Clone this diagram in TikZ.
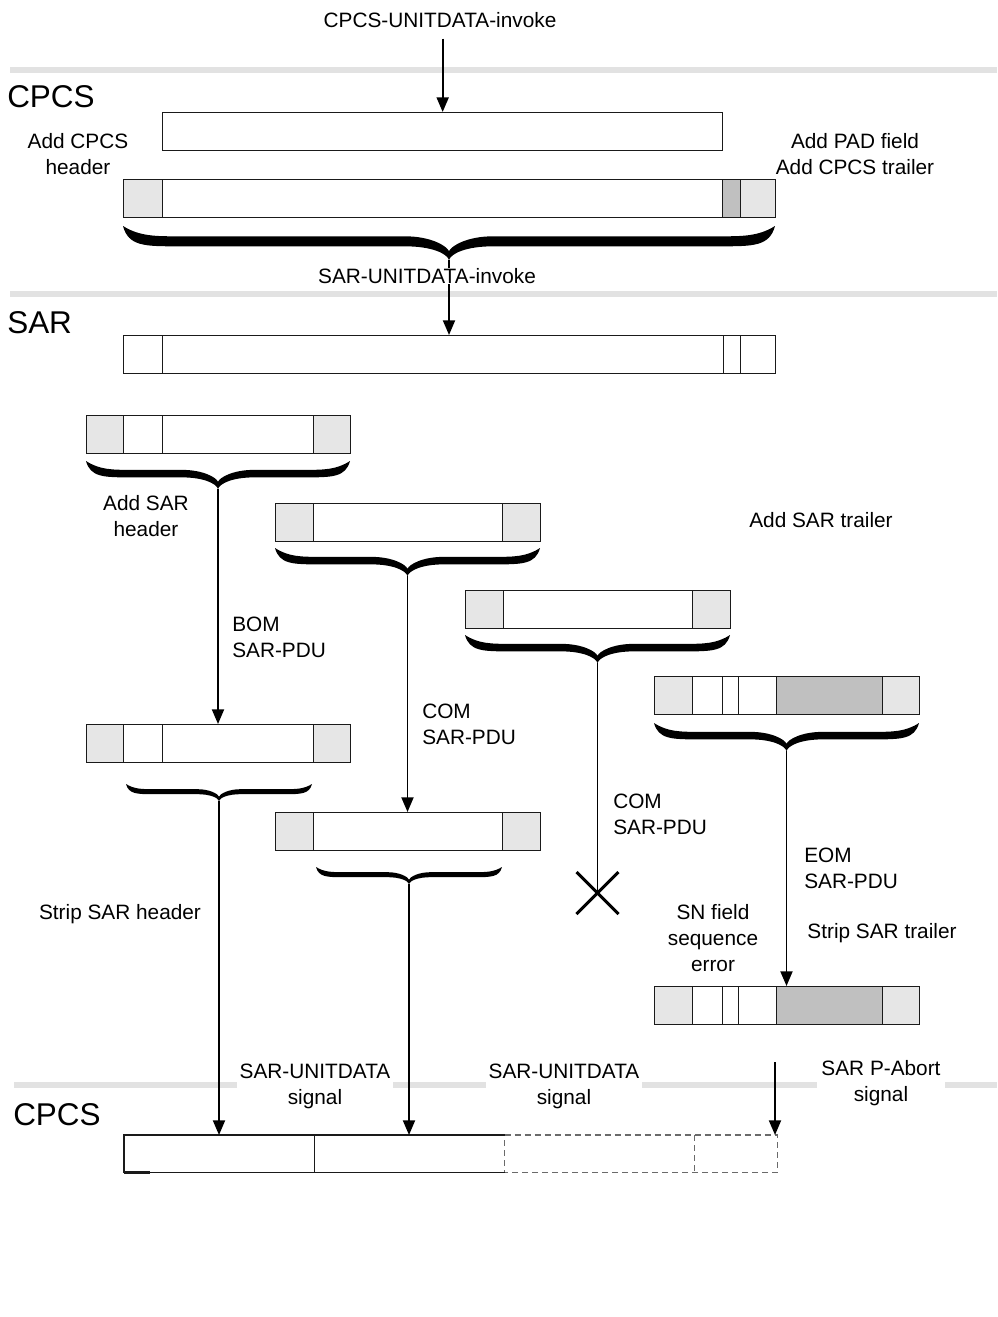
\documentclass[tikz,border=0pt]{standalone}
\usepackage{fontspec}
\setmainfont{Liberation Sans}
\usetikzlibrary{arrows.meta}
\definecolor{lg}{HTML}{E6E6E6}
\definecolor{mg}{HTML}{C0C0C0}
\definecolor{sepg}{HTML}{E2E2E2}
\definecolor{dashg}{HTML}{6A6A6A}
\definecolor{ink}{HTML}{1A1A1A}

\tikzset{
  lbl/.style={font=\fontsize{15.6}{19.5}\selectfont, align=center, inner sep=0pt},
  lbll/.style={lbl, align=left, anchor=west},
  big/.style={font=\fontsize{23.6}{28}\selectfont, inner sep=0pt, anchor=west},
  sepline/.style={draw=sepg, line width=4.5pt},
  arr/.style={-{Triangle[length=11pt,width=9pt]}, line width=1.4pt, draw=black},
  conn/.style={line width=1.4pt, draw=black},
  boxline/.style={line width=1pt, draw=ink},
  cellbox/.style={draw=ink, line width=1pt, inner sep=0pt, anchor=north west},
  dashbox/.style={draw=dashg, line width=1pt, dash pattern=on 4.5pt off 3pt},
  braceblk/.style={fill=black},
  xmarkline/.style={line width=2.2pt, draw=black},
}

% cell: name, x1, x2, y1, y2, fill
\newcommand{\mkcell}[6]{%
  \node[cellbox, fill=#6, minimum width={(#3-#2)*0.75pt}, minimum height={(#5-#4)*0.75pt}] (#1) at (#2,#4) {};}

% brace: name, x1, x2, y0, depth, thickness
\newcommand{\mybrace}[6]{%
  \pgfmathsetmacro\bA{#2}\pgfmathsetmacro\bB{#3}%
  \pgfmathsetmacro\bM{(#2+#3)/2}%
  \pgfmathsetmacro\bT{#4+0.45*#5-#6/2}%
  \pgfmathsetmacro\bBo{#4+0.45*#5+#6/2}%
  \pgfmathsetmacro\bC{#4+0.74*#5}%
  \pgfmathsetmacro\bP{#4+#5}%
  \pgfmathsetmacro\eT{1.6*#5}%
  \pgfmathsetmacro\cT{1.3*#5}%
  \fill[braceblk] (\bA,#4)
    .. controls ({\bA+0.1*\eT},\bBo) and ({\bA+0.4*\eT},\bBo) .. ({\bA+\eT},\bBo)
    -- ({\bM-\cT},\bBo)
    .. controls ({\bM-0.4*\cT},\bBo) and ({\bM-0.05*\cT},{\bP-0.2*#5}) .. (\bM,\bP)
    .. controls ({\bM+0.05*\cT},{\bP-0.2*#5}) and ({\bM+0.4*\cT},\bBo) .. ({\bM+\cT},\bBo)
    -- ({\bB-\eT},\bBo)
    .. controls ({\bB-0.4*\eT},\bBo) and ({\bB-0.1*\eT},\bBo) .. (\bB,#4)
    .. controls ({\bB-0.3*\eT},\bT) and ({\bB-0.6*\eT},\bT) .. ({\bB-\eT},\bT)
    -- ({\bM+\cT},\bT)
    .. controls ({\bM+0.4*\cT},\bT) and ({\bM+0.05*\cT},{\bC-0.15*#5}) .. (\bM,\bC)
    .. controls ({\bM-0.05*\cT},{\bC-0.15*#5}) and ({\bM-0.4*\cT},\bT) .. ({\bM-\cT},\bT)
    -- ({\bA+\eT},\bT)
    .. controls ({\bA+0.6*\eT},\bT) and ({\bA+0.3*\eT},\bT) .. (\bA,#4) -- cycle;
  \coordinate (#1) at (\bM,\bP);}

\begin{document}
\begin{tikzpicture}[x=0.75pt,y=-0.75pt]
\useasboundingbox (0,0) rectangle (997,1317);

% layer separators
\draw[sepline] (10,70) -- (997,70);
\draw[sepline] (10,294) -- (997,294);
\draw[sepline] (14,1085) -- (997,1085);

% ---------- CPCS (top) ----------
\node[lbl] (invk) at (440,20) {CPCS-UNITDATA-invoke};
\node[big] (lcpcsA) at (7,97) {CPCS};
\node[lbl] (addh) at (78,154) {Add CPCS\\header};
\node[lbl] (addt) at (855,154) {Add PAD field\\Add CPCS trailer};

\mkcell{sdu}{162}{722}{112}{150}{white}
\mkcell{cpH}{123}{162}{179}{217}{lg}
\mkcell{cpB}{162}{722}{179}{217}{white}
\mkcell{cpP}{722}{740}{179}{217}{mg}
\mkcell{cpT}{740}{775}{179}{217}{lg}
\mybrace{tipP}{123}{775}{226}{34}{10}

\coordinate (invs) at ([yshift=-8pt]invk.south);
\draw[arr] (invs -| sdu.north) -- (sdu.north);

% ---------- SAR ----------
\node[big] (lsar) at (7,323) {SAR};
\mkcell{s1}{123}{162}{335}{373}{white}
\mkcell{s2}{162}{723}{335}{373}{white}
\mkcell{s3}{723}{740}{335}{373}{white}
\mkcell{s4}{740}{775}{335}{373}{white}
\draw[arr] (tipP) -- (tipP |- s2.north);
\node[lbl, fill=white] (sinv) at (427,276) {SAR-UNITDATA-invoke};

% PDU A
\mkcell{a1}{86}{123}{415}{453}{lg}
\mkcell{a2}{123}{162}{415}{453}{white}
\mkcell{a3}{162}{313}{415}{453}{white}
\mkcell{a4}{313}{350}{415}{453}{lg}
\mybrace{tipA}{86}{350}{461}{28}{7.5}
\node[lbl] (addsh) at (146,516) {Add SAR\\header};

% PDU B
\mkcell{b1}{275}{313}{503}{541}{lg}
\mkcell{b2}{313}{502}{503}{541}{white}
\mkcell{b3}{502}{540}{503}{541}{lg}
\mybrace{tipB}{275}{540}{548}{28}{7.5}
\node[lbl] (addst) at (821,520) {Add SAR trailer};

% PDU C
\mkcell{c1}{465}{503}{590}{628}{lg}
\mkcell{c2}{503}{692}{590}{628}{white}
\mkcell{c3}{692}{730}{590}{628}{lg}
\mybrace{tipC}{465}{730}{635}{28}{7.5}

% PDU D
\mkcell{d1}{654}{692}{676}{714}{lg}
\mkcell{d2}{692}{722}{676}{714}{white}
\mkcell{d3}{722}{738}{676}{714}{white}
\mkcell{d4}{738}{776}{676}{714}{white}
\mkcell{d5}{776}{882}{676}{714}{mg}
\mkcell{d6}{882}{919}{676}{714}{lg}
\mybrace{tipD}{654}{919}{723}{28}{7.5}

% PDU E
\mkcell{e1}{86}{123}{724}{762}{lg}
\mkcell{e2}{123}{162}{724}{762}{white}
\mkcell{e3}{162}{313}{724}{762}{white}
\mkcell{e4}{313}{350}{724}{762}{lg}
\mybrace{tipE}{126}{312}{784}{17}{5}

% PDU F
\mkcell{f1}{275}{313}{812}{850}{lg}
\mkcell{f2}{313}{502}{812}{850}{white}
\mkcell{f3}{502}{540}{812}{850}{lg}
\mybrace{tipF}{316}{502}{867}{17}{5}

% PDU G
\mkcell{g1}{654}{692}{986}{1024}{lg}
\mkcell{g2}{692}{722}{986}{1024}{white}
\mkcell{g3}{722}{738}{986}{1024}{white}
\mkcell{g4}{738}{776}{986}{1024}{white}
\mkcell{g5}{776}{882}{986}{1024}{mg}
\mkcell{g6}{882}{919}{986}{1024}{lg}

% labels on the flows
\node[lbll] (bom) at (232,637) {BOM\\SAR-PDU};
\node[lbll] (com1) at (422,724) {COM\\SAR-PDU};
\node[lbll] (com2) at (613,814) {COM\\SAR-PDU};
\node[lbll] (eom) at (804,868) {EOM\\SAR-PDU};
\node[lbl] (snerr) at (713,938) {SN field\\sequence\\error};
\node[lbl] (strt) at (882,933) {Strip SAR trailer};
\node[lbl] (strh) at (120,914) {Strip SAR header};

% lost PDU
\coordinate (xm) at (597.5,893);
\draw[conn] (tipC) -- (xm);
\draw[xmarkline] ([shift={(-21,-21)}]xm) -- ([shift={(21,21)}]xm);
\draw[xmarkline] ([shift={(-21,21)}]xm) -- ([shift={(21,-21)}]xm);

% arrows between PDUs
\draw[arr] (tipA) -- (tipA |- e2.north);
\draw[arr] (tipB) -- (tipB |- f2.north);
\draw[arr] (tipD) -- (tipD |- g4.north);

% ---------- CPCS (bottom) ----------
\node[big] (lcpcsB) at (13,1115) {CPCS};
\node[lbl, fill=white, inner xsep=2pt] (sig1) at (315,1086) {SAR-UNITDATA\\signal};
\node[lbl, fill=white, inner xsep=2pt] (sig2) at (564,1086) {SAR-UNITDATA\\signal};
\node[lbl, fill=white, inner xsep=3pt] (sig3) at (881,1083) {SAR P-Abort\\signal};

\node[inner sep=0pt, anchor=north west, minimum width={190*0.75pt}, minimum height={37*0.75pt}] (k1) at (124,1135) {};
\node[inner sep=0pt, anchor=north west, minimum width={190*0.75pt}, minimum height={37*0.75pt}] (k2) at (314,1135) {};
\node[inner sep=0pt, anchor=north west, minimum width={190*0.75pt}, minimum height={37*0.75pt}] (k3) at (504,1135) {};
\node[inner sep=0pt, anchor=north west, minimum width={83*0.75pt}, minimum height={37*0.75pt}] (k4) at (694,1135) {};
\draw[dashbox] (k2.north east) -- (k4.north east) -- (k4.south east) -- (k2.south east) -- cycle;
\draw[dashbox] (k3.north east) -- (k3.south east);
\draw[boxline] (k2.north east) -- (k1.north west) -- (k1.south west) -- (k2.south east);
\draw[boxline] (k1.north east) -- (k1.south east);
\draw[line width=2pt, draw=ink] (k1.south west) -- ++(26,0);

\coordinate (ab) at (775,1062);
\draw[arr] (tipE) -- (tipE |- k1.north);
\draw[arr] (tipF) -- (tipF |- k2.north);
\draw[arr] (ab) -- (ab |- k4.north);
\end{tikzpicture}
\end{document}
